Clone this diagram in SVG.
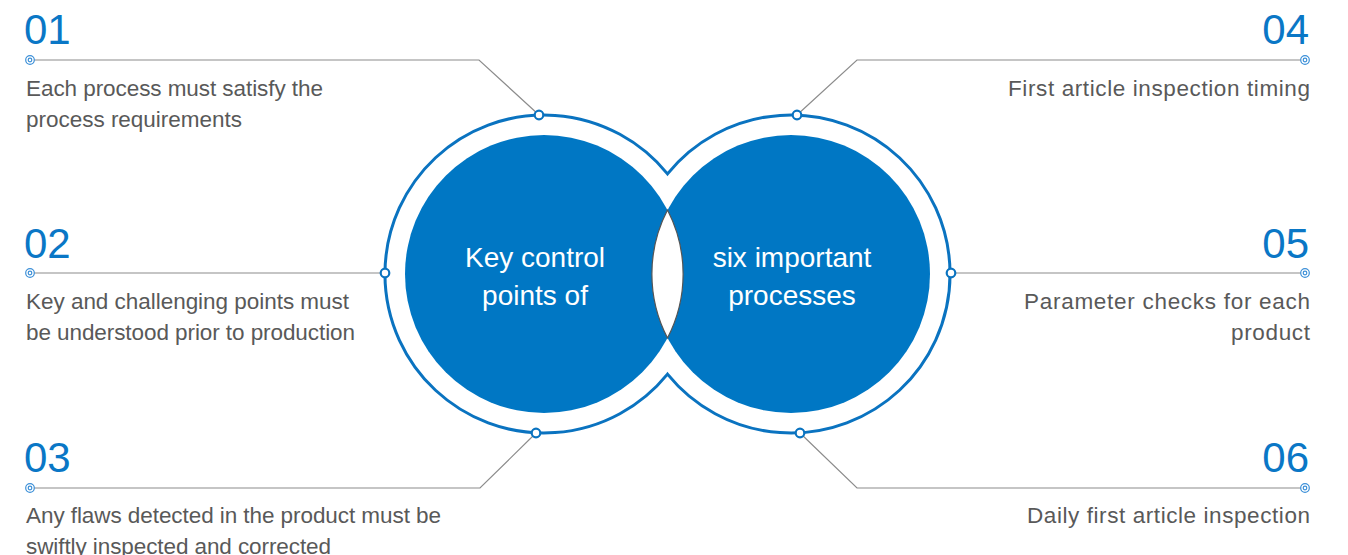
<svg xmlns="http://www.w3.org/2000/svg" width="1348" height="555" viewBox="0 0 1348 555">
<style>
.num{font-family:"Liberation Sans",Arial,sans-serif;font-size:42px;fill:#0a77c6}
.txt{font-family:"Liberation Sans",Arial,sans-serif;font-size:22.5px;fill:#595959}
.ctr{font-family:"Liberation Sans",Arial,sans-serif;font-size:28px;fill:#ffffff;text-anchor:middle}
.r{text-anchor:end}
.conn{fill:none;stroke:#8c8c8c;stroke-width:1.2}
.dot{fill:#ffffff;stroke:#0a73c0;stroke-width:2.2}
.end{fill:#ffffff;stroke:#3d90d8;stroke-width:1.2}
</style>
<rect width="1348" height="555" fill="#ffffff"/>
<g id="venn">
<path d="M667.5 173.9 A159 159 0 1 0 667.5 374.1 A159 159 0 1 0 667.5 173.9 Z" fill="none" stroke="#0a73c0" stroke-width="3"/>
<circle cx="544" cy="274" r="139" fill="#0077c4"/>
<circle cx="791" cy="274" r="139" fill="#0077c4"/>
<path d="M667.5 210 A139 139 0 0 1 667.5 338 A139 139 0 0 1 667.5 210 Z" fill="#ffffff" stroke="#555555" stroke-width="1.2"/>
<text class="ctr" x="535" y="267">Key control</text>
<text class="ctr" x="535" y="305">points of</text>
<text class="ctr" x="792" y="267">six important</text>
<text class="ctr" x="792" y="305">processes</text>
</g>
<g id="connectors">
<polyline class="conn" points="30,60 479,60 539,115"/>
<polyline class="conn" points="30,273 385,273"/>
<polyline class="conn" points="30,488 480,488 536,433"/>
<polyline class="conn" points="1305,60 857,60 797,115"/>
<polyline class="conn" points="1305,273 951,273"/>
<polyline class="conn" points="1305,488 857,488 800,433"/>
</g>
<g id="ring-markers">
<circle class="dot" cx="539" cy="115" r="4.3"/>
<circle class="dot" cx="385" cy="273" r="4.3"/>
<circle class="dot" cx="536" cy="433" r="4.3"/>
<circle class="dot" cx="797" cy="115" r="4.3"/>
<circle class="dot" cx="951" cy="273" r="4.3"/>
<circle class="dot" cx="800" cy="433" r="4.3"/>
</g>
<g id="item01">
<circle class="end" cx="30" cy="60" r="4.3"/><circle class="end" cx="30" cy="60" r="1.8"/>
<text class="num" x="24" y="44">01</text>
<text class="txt" x="26" y="96" textLength="297" lengthAdjust="spacing">Each process must satisfy the</text>
<text class="txt" x="26" y="127" textLength="216" lengthAdjust="spacing">process requirements</text>
</g>
<g id="item02">
<circle class="end" cx="30" cy="273" r="4.3"/><circle class="end" cx="30" cy="273" r="1.8"/>
<text class="num" x="24" y="258">02</text>
<text class="txt" x="26" y="309" textLength="323" lengthAdjust="spacing">Key and challenging points must</text>
<text class="txt" x="26" y="340" textLength="329" lengthAdjust="spacing">be understood prior to production</text>
</g>
<g id="item03">
<circle class="end" cx="30" cy="488" r="4.3"/><circle class="end" cx="30" cy="488" r="1.8"/>
<text class="num" x="24" y="472">03</text>
<text class="txt" x="26" y="523" textLength="415" lengthAdjust="spacing">Any flaws detected in the product must be</text>
<text class="txt" x="26" y="554" textLength="305" lengthAdjust="spacing">swiftly inspected and corrected</text>
</g>
<g id="item04">
<circle class="end" cx="1305" cy="60" r="4.3"/><circle class="end" cx="1305" cy="60" r="1.8"/>
<text class="num r" x="1309" y="44">04</text>
<text class="txt" x="1008" y="96" textLength="302" lengthAdjust="spacing">First article inspection timing</text>
</g>
<g id="item05">
<circle class="end" cx="1305" cy="273" r="4.3"/><circle class="end" cx="1305" cy="273" r="1.8"/>
<text class="num r" x="1309" y="258">05</text>
<text class="txt" x="1024" y="309" textLength="286" lengthAdjust="spacing">Parameter checks for each</text>
<text class="txt" x="1231" y="340" textLength="79" lengthAdjust="spacing">product</text>
</g>
<g id="item06">
<circle class="end" cx="1305" cy="488" r="4.3"/><circle class="end" cx="1305" cy="488" r="1.8"/>
<text class="num r" x="1309" y="472">06</text>
<text class="txt" x="1027" y="523" textLength="283" lengthAdjust="spacing">Daily first article inspection</text>
</g>
</svg>
